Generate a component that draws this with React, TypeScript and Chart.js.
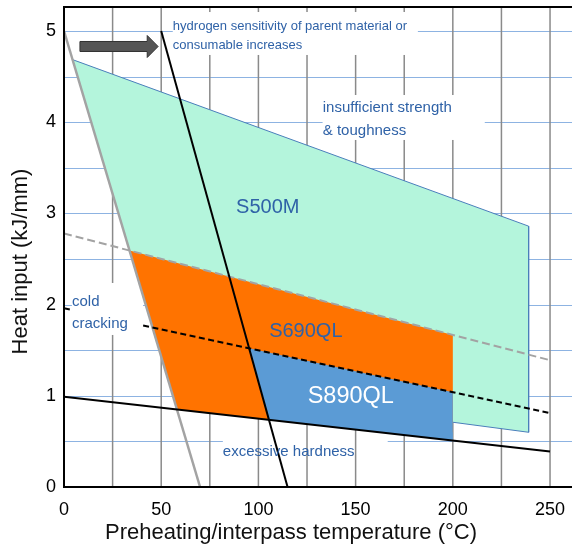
import React, { useEffect, useRef } from "react";
import { Chart, registerables } from "chart.js";

Chart.register(...registerables);

// ---------- data ----------
const xTickValues = [0, 50, 100, 150, 200, 250];
const yTickValues = [0, 1, 2, 3, 4, 5];
const xGridValues = [25, 50, 75, 100, 125, 150, 175, 200, 225, 250];
const yGridValues = [0.5, 1, 1.5, 2, 2.5, 3, 3.5, 4, 4.5, 5];

// boundary lines
const coldCrackingX = [0, 70];
const coldCrackingY = [5, 0];
const hydrogenX = [50, 115];
const hydrogenY = [5, 0];
const hardnessX = [0, 250];
const hardnessY = [0.99, 0.39];
const s500UpperX = [0, 250];
const s500UpperY = [2.78, 1.39];
const s690UpperStartX = [0, 3];
const s690UpperStartY = [1.96, 1.946];
const s690UpperX = [40.7, 250];
const s690UpperY = [1.77, 0.81];

// regions
const s500mX = [4.4, 239, 239, 200, 56, 4.4];
const s500mY = [4.686, 2.86, 0.6, 0.71, 1.0, 4.686];
const s690qlX = [33.7, 200, 200, 105.4, 57.9, 33.7];
const s690qlY = [2.593, 1.666, 0.6, 0.737, 0.85, 2.593];
const s890qlX = [95.2, 200, 200, 105.4, 95.2];
const s890qlY = [1.522, 1.04, 0.51, 0.737, 1.522];

// labels
const labelTexts = [
  "S500M",
  "S690QL",
  "S890QL",
  "insufficient strength",
  "& toughness",
  "cold",
  "cracking",
  "excessive hardness",
  "hydrogen sensitivity of parent material or",
  "consumable increases",
];
const labelX = [104.8, 124.4, 147.5, 133.1, 133.1, 4.1, 4.1, 81.7, 56, 56];
const labelY = [3.07, 1.7, 0.987, 4.156, 3.904, 2.029, 1.787, 0.384, 5.045, 4.845];

const xTitle = "Preheating/interpass temperature (°C)";
const yTitle = "Heat input (kJ/mm)";

// ---------- styles ----------
const FONT = "'Liberation Sans', Arial, Helvetica, sans-serif";
const TEXT_BLUE = "#2f62a7";
const labelStyles = [
  { size: 20, color: TEXT_BLUE, align: "center" },
  { size: 20, color: TEXT_BLUE, align: "center" },
  { size: 23.5, color: "#ffffff", align: "center" },
  { size: 15, color: TEXT_BLUE, align: "left" },
  { size: 15, color: TEXT_BLUE, align: "left" },
  { size: 15, color: TEXT_BLUE, align: "left" },
  { size: 15, color: TEXT_BLUE, align: "left" },
  { size: 15, color: TEXT_BLUE, align: "left" },
  { size: 13, color: TEXT_BLUE, align: "left" },
  { size: 13, color: TEXT_BLUE, align: "left" },
];

// white boxes behind text (data coords): x0, x1, y0, y1, hides vertical grid
const boxes = [
  { x0: 56, x1: 181.9, y0: 4.737, y1: 5.208, vertical: true },
  { x0: 133.1, x1: 216.3, y0: 3.805, y1: 4.298, vertical: true },
  { x0: 4.1, x1: 40.6, y0: 1.667, y1: 2.237, vertical: true },
  { x0: 81.7, x1: 166.5, y0: 0.44, y1: 0.56, vertical: false },
];

const pts = (xs: number[], ys: number[]) => xs.map((x, i) => ({ x, y: ys[i] }));

const lineDs = (xs: number[], ys: number[], color: string, width: number, dash: number[] = []) => ({
  data: pts(xs, ys),
  showLine: true,
  borderColor: color,
  borderWidth: width,
  borderDash: dash,
  pointRadius: 0,
  fill: false,
  tension: 0,
});

const areaDs = (xs: number[], ys: number[], color: string, border: string, bw: number) => ({
  data: pts(xs, ys),
  showLine: true,
  borderColor: border,
  borderWidth: bw,
  backgroundColor: color,
  pointRadius: 0,
  fill: "shape",
  tension: 0,
});

const decorPlugin = {
  id: "decor",
  beforeDatasetsDraw(chart: any) {
    const { ctx, chartArea: a, scales } = chart;
    const x = scales.x;
    const y = scales.y;
    const right = chart.width;
    ctx.save();
    ctx.beginPath();
    ctx.rect(a.left, a.top, right - a.left, a.bottom - a.top);
    ctx.clip();
    // horizontal grid
    ctx.strokeStyle = "#8db3e2";
    ctx.lineWidth = 1;
    yGridValues.forEach((v) => {
      const py = Math.round(y.getPixelForValue(v)) + 0.5;
      ctx.beginPath();
      ctx.moveTo(a.left, py);
      ctx.lineTo(right, py);
      ctx.stroke();
    });
    const fillBox = (b: any) => {
      const px0 = x.getPixelForValue(b.x0);
      const px1 = x.getPixelForValue(b.x1);
      const py0 = y.getPixelForValue(b.y1);
      const py1 = y.getPixelForValue(b.y0);
      ctx.fillStyle = "#ffffff";
      ctx.fillRect(px0, py0, px1 - px0, py1 - py0);
    };
    boxes.forEach(fillBox);
    // vertical grid
    ctx.strokeStyle = "#8a8a8a";
    ctx.lineWidth = 1.5;
    xGridValues.forEach((v) => {
      const px = x.getPixelForValue(v);
      ctx.beginPath();
      ctx.moveTo(px, a.top);
      ctx.lineTo(px, a.bottom);
      ctx.stroke();
    });
    boxes.filter((b) => b.vertical).forEach(fillBox);
    ctx.restore();
  },
  afterDatasetsDraw(chart: any) {
    const { ctx, chartArea: a, scales } = chart;
    const x = scales.x;
    const y = scales.y;
    const right = chart.width;
    ctx.save();
    // arrow
    const ay = y.getPixelForValue(4.83);
    const tail = x.getPixelForValue(8.2);
    const neck = x.getPixelForValue(42.8);
    const tip = x.getPixelForValue(48.4);
    ctx.beginPath();
    ctx.moveTo(tail, ay - 5);
    ctx.lineTo(neck, ay - 5);
    ctx.lineTo(neck, ay - 11);
    ctx.lineTo(tip, ay);
    ctx.lineTo(neck, ay + 11);
    ctx.lineTo(neck, ay + 5);
    ctx.lineTo(tail, ay + 5);
    ctx.closePath();
    ctx.fillStyle = "#555555";
    ctx.fill();
    ctx.strokeStyle = "#333333";
    ctx.lineWidth = 1;
    ctx.stroke();
    // frame
    ctx.strokeStyle = "#000000";
    ctx.lineWidth = 2;
    ctx.beginPath();
    ctx.moveTo(right, a.top);
    ctx.lineTo(a.left, a.top);
    ctx.lineTo(a.left, a.bottom);
    ctx.lineTo(right, a.bottom);
    ctx.stroke();
    // labels
    ctx.textBaseline = "middle";
    labelTexts.forEach((t, i) => {
      const s = labelStyles[i];
      ctx.font = `${s.size}px ${FONT}`;
      ctx.fillStyle = s.color;
      ctx.textAlign = s.align as CanvasTextAlign;
      ctx.fillText(t, x.getPixelForValue(labelX[i]), y.getPixelForValue(labelY[i]));
    });
    ctx.restore();
  },
  afterDraw(chart: any) {
    const { ctx } = chart;
    ctx.save();
    ctx.fillStyle = "#111111";
    ctx.font = `22px ${FONT}`;
    ctx.textAlign = "center";
    ctx.textBaseline = "middle";
    ctx.fillText(xTitle, 291, 533);
    ctx.translate(21, 261.5);
    ctx.rotate(-Math.PI / 2);
    ctx.fillText(yTitle, 0, 0);
    ctx.restore();
  },
};

export default function App() {
  const ref = useRef<HTMLCanvasElement | null>(null);
  useEffect(() => {
    if (!ref.current) return;
    const chart = new Chart(ref.current, {
      type: "scatter",
      data: {
        datasets: [
          lineDs(hydrogenX, hydrogenY, "#000000", 2),
          lineDs(hardnessX, hardnessY, "#000000", 2),
          lineDs(s690UpperStartX, s690UpperStartY, "#000000", 2, [6, 3.5]),
          lineDs(s690UpperX, s690UpperY, "#000000", 2, [6, 3.5]),
          lineDs(coldCrackingX, coldCrackingY, "#a3a3a3", 2.5),
          lineDs(s500UpperX, s500UpperY, "#a3a3a3", 2, [8, 4]),
          areaDs(s890qlX, s890qlY, "#5b9bd5", "rgba(0,0,0,0)", 0),
          areaDs(s690qlX, s690qlY, "#ff7300", "rgba(0,0,0,0)", 0),
          areaDs(s500mX, s500mY, "#b4f5dc", "#4a7ebb", 1),
        ] as any,
      },
      options: {
        animation: false,
        responsive: false,
        events: [],
        layout: { padding: { top: 7, right: 0, left: 0, bottom: 0 } },
        plugins: { legend: { display: false }, tooltip: { enabled: false } },
        scales: {
          x: {
            type: "linear",
            min: 0,
            max: 261.3,
            grid: { display: false, drawTicks: false },
            border: { display: false },
            afterBuildTicks: (s: any) => {
              s.ticks = xTickValues.map((v) => ({ value: v }));
            },
            afterFit: (s: any) => {
              s.height = 59;
              s.paddingLeft = 0;
              s.paddingRight = 0;
            },
            ticks: {
              padding: 12,
              color: "#000000",
              font: { family: FONT, size: 18 },
              maxRotation: 0,
              autoSkip: false,
              callback: (v: any) => String(v),
            },
          },
          y: {
            type: "linear",
            min: 0,
            max: 5.263,
            grid: { display: false, drawTicks: false },
            border: { display: false },
            afterBuildTicks: (s: any) => {
              s.ticks = yTickValues.map((v) => ({ value: v }));
            },
            afterFit: (s: any) => {
              s.width = 64;
              s.paddingTop = 0;
              s.paddingBottom = 0;
            },
            ticks: {
              padding: 8,
              color: "#000000",
              font: { family: FONT, size: 18 },
              autoSkip: false,
              callback: (v: any) => String(v),
            },
          },
        },
      } as any,
      plugins: [decorPlugin],
    });
    return () => chart.destroy();
  }, []);
  return (
    <div style={{ position: "fixed", left: 0, top: 0, width: 572, height: 546, background: "#fff" }}>
      <canvas ref={ref} width={572} height={546} style={{ display: "block" }} />
    </div>
  );
}
